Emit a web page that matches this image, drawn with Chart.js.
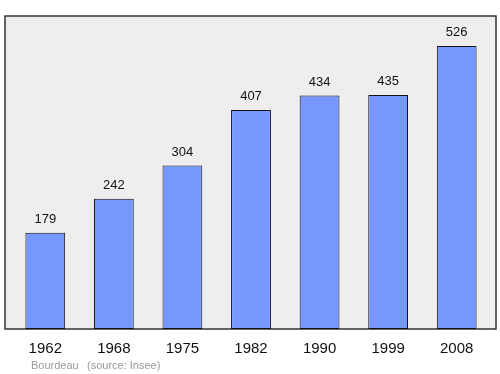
<!DOCTYPE html>
<html>
<head>
<meta charset="utf-8">
<script src="https://cdn.jsdelivr.net/npm/chart.js@4"></script>
<style>
  html, body { margin: 0; padding: 0; background: #fff; }
  #wrap { width: 500px; height: 374px; }
</style>
</head>
<body>
<div id="wrap"><canvas id="myChart" width="500" height="374"></canvas></div>
<script>
// population of Bourdeau by census year
var years = ['1962', '1968', '1975', '1982', '1990', '1999', '2008'];
var population = [179, 242, 304, 407, 434, 435, 526];
var footerName = 'Bourdeau';
var footerSource = '(source: Insee)';

// grey framed panel behind the bars, a bit wider than the chart area
var framePlugin = {
	id: 'frame',
	beforeDraw: function(chart) {
		var ctx = chart.ctx;
		var a = chart.chartArea;
		ctx.save();
		ctx.fillStyle = '#eeeeee';
		ctx.fillRect(a.left - 6, a.top, a.right - a.left + 11, a.bottom - a.top);
		ctx.strokeStyle = '#333333';
		ctx.lineWidth = 1.5;
		ctx.strokeRect(a.left - 6, a.top, a.right - a.left + 11, a.bottom - a.top);
		ctx.restore();
	}
};

// values written above each bar, plus the footer line
var labelPlugin = {
	id: 'labels',
	afterDatasetsDraw: function(chart) {
		var ctx = chart.ctx;
		var meta = chart.getDatasetMeta(0);
		ctx.save();
		ctx.font = '13px "Liberation Sans", Arial, sans-serif';
		ctx.fillStyle = '#111';
		ctx.textAlign = 'center';
		ctx.textBaseline = 'alphabetic';
		for (var i = 0; i < meta.data.length; i++) {
			var bar = meta.data[i];
			ctx.fillText(population[i], bar.x, bar.y - 10);
		}
		ctx.font = '11px "Liberation Sans", Arial, sans-serif';
		ctx.fillStyle = '#999999';
		ctx.textAlign = 'left';
		ctx.fillText(footerName, 31, 369);
		ctx.fillText(footerSource, 87, 369);
		ctx.restore();
	}
};

var ctx = document.getElementById('myChart');
var myChart = new Chart(ctx, {
	type: 'bar',
	data: {
		labels: years,
		datasets: [{
			data: population,
			backgroundColor: '#7799ff',
			borderColor: '#111111',
			borderWidth: 1,
			borderSkipped: false,
			barPercentage: 0.58,
			categoryPercentage: 1
		}]
	},
	options: {
		responsive: false,
		animation: false,
		layout: { padding: { left: 11, right: 9, top: 16, bottom: 0 } },
		plugins: {
			legend: { display: false },
			tooltip: { enabled: false }
		},
		scales: {
			x: {
				grid: { display: false },
				border: { display: false },
				ticks: {
					color: '#111',
					padding: 3,
					font: { family: '"Liberation Sans", Arial, sans-serif', size: 15 }
				},
				afterFit: function(scale) { scale.height = 45; }
			},
			y: {
				display: false,
				min: 0,
				max: 582
			}
		}
	},
	plugins: [framePlugin, labelPlugin]
});
</script>
</body>
</html>
